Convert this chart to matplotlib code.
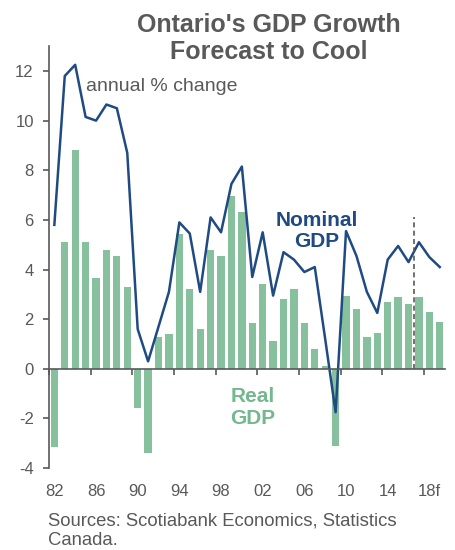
import numpy as np
import matplotlib
matplotlib.use("Agg")
import matplotlib.pyplot as plt

plt.rcParams['font.family'] = ['Liberation Sans', 'DejaVu Sans']

years = list(range(1982, 2020))
real_gdp = [-3.15, 5.1, 8.8, 5.1, 3.65, 4.8, 4.55, 3.3, -1.6, -3.4,
            1.3, 1.4, 5.45, 3.2, 1.6, 4.8, 4.55, 6.95, 6.3, 1.85,
            3.4, 1.1, 2.8, 3.2, 1.85, 0.8, 0.1, -3.1, 2.95, 2.4,
            1.3, 1.45, 2.7, 2.9, 2.6, 2.9, 2.3, 1.9]
nominal_gdp = [5.8, 11.8, 12.25, 10.15, 10.0, 10.65, 10.5, 8.7, 1.6, 0.3,
               1.7, 3.1, 5.9, 5.45, 3.1, 6.1, 5.5, 7.45, 8.15, 3.7,
               5.5, 2.95, 4.7, 4.4, 3.9, 4.1, 1.2, -1.75, 5.55, 4.55,
               3.1, 2.25, 4.4, 4.95, 4.3, 5.1, 4.5, 4.1]
tick_labels = ['82', '86', '90', '94', '98', '02', '06', '10', '14', '18f']

gray = '#595959'
green = '#86C09D'
navy = '#1F4B82'

fig = plt.figure(figsize=(4.55, 5.5), dpi=100)
ax = fig.add_axes([0.108, 0.149, 0.870, 0.767])

x = np.arange(len(years))
ax.bar(x, real_gdp, width=0.7, color=green, zorder=2)
ax.plot(x, nominal_gdp, color=navy, lw=1.8, zorder=3)
ax.plot([34.5, 34.5], [0, 6.1], color=gray, lw=1.2, ls=(0, (3, 2)), zorder=4)

ax.set_xlim(-0.5, len(years) - 0.5)
ax.set_ylim(-4, 13)
ax.set_yticks(range(-4, 13, 2))
ax.set_yticklabels([str(v) for v in range(-4, 13, 2)], color=gray, fontsize=12)
ax.tick_params(axis='y', direction='out', length=4, width=1.2, color=gray, pad=7)

# zero line carries the year ticks, labels sit below the plot
ax.spines['bottom'].set_position(('data', 0))
ax.spines['bottom'].set_color(gray)
ax.spines['bottom'].set_linewidth(1.2)
ax.spines['bottom'].set_zorder(4)
ax.set_xticks(np.arange(-0.5, len(years), 4))
ax.set_xticklabels([])
ax.tick_params(axis='x', direction='out', length=4.5, width=1.2, color=gray)
for i, lab in zip(x[::4], tick_labels):
    ax.text(i, -4.95, lab, ha='center', va='center', color=gray, fontsize=12,
            clip_on=False)

for s in ['top', 'right']:
    ax.spines[s].set_visible(False)
ax.spines['left'].set_color(gray)
ax.spines['left'].set_linewidth(1.2)

fig.text(0.591, 0.930, "Ontario's GDP Growth\nForecast to Cool", ha='center', va='center',
         fontsize=18, fontweight='bold', color=gray, linespacing=1.12)
ax.text(3.0, 11.2, 'annual % change', color=gray, fontsize=14, va='baseline')
ax.text(25.2, 5.55, 'Nominal\nGDP', color=navy, fontsize=15, fontweight='bold',
        ha='center', va='center', linespacing=1.18)
ax.text(19.0, -1.55, 'Real\nGDP', color='#73B88F', fontsize=15, fontweight='bold',
        ha='center', va='center', linespacing=1.18)
fig.text(0.105, 0.068, 'Sources: Scotiabank Economics, Statistics\nCanada.',
         color=gray, fontsize=13.3, va='top', linespacing=1.22)

fig.savefig('out.png', dpi=100)
